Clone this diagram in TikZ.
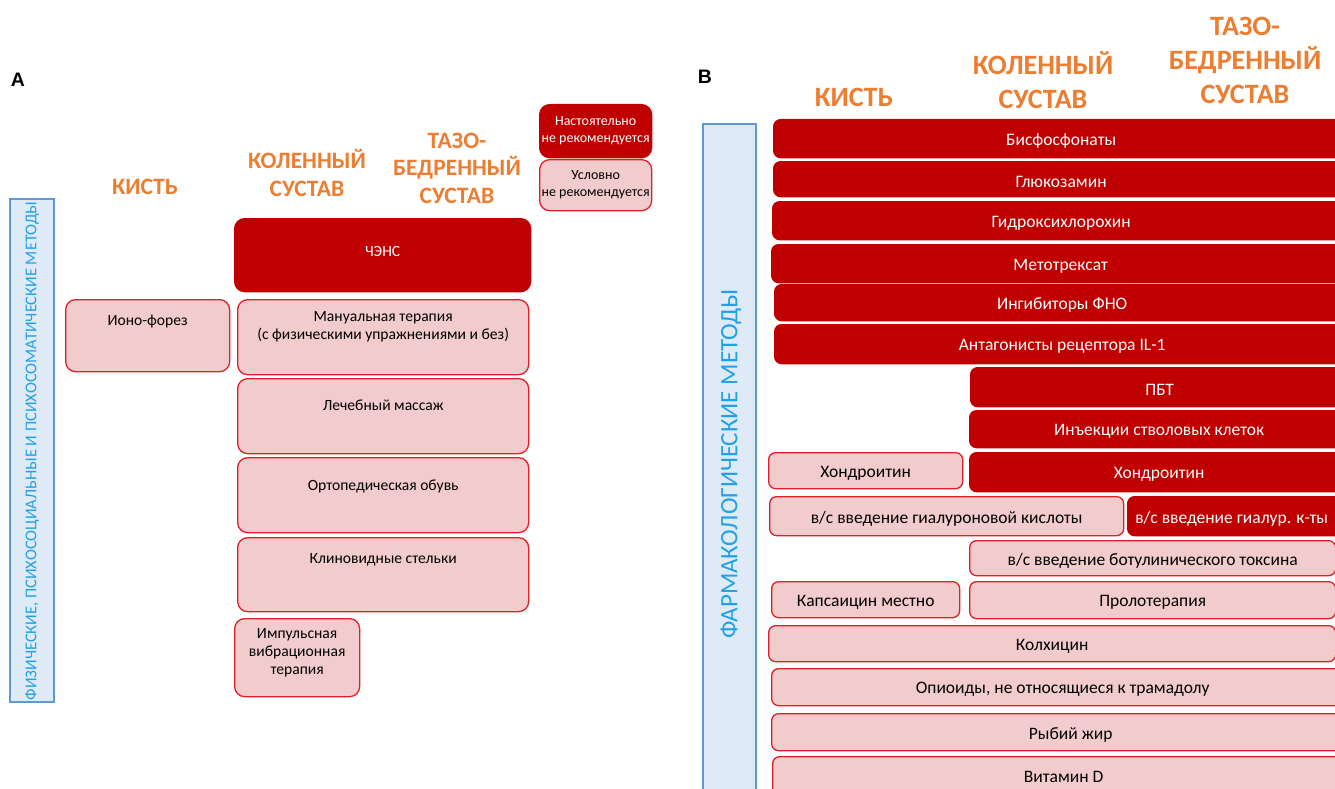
\documentclass[tikz,border=0pt]{standalone}
\usepackage{fontspec}
\setmainfont{Carlito}
\newfontfamily\labfont{Liberation Sans}
\definecolor{dred}{HTML}{C00000}
\definecolor{pfill}{HTML}{F2CCCC}
\definecolor{pdraw}{HTML}{DE1F28}
\definecolor{hor}{HTML}{ED7D31}
\definecolor{bfill}{HTML}{DEEBF7}
\definecolor{bdraw}{HTML}{5B9BD5}
\definecolor{btxt}{HTML}{22A0E6}
\begin{document}
\begin{tikzpicture}[x=1pt,y=-1pt,
  lbox/.style={rounded corners=10pt, anchor=north west, inner sep=0pt, line width=1.3pt},
  rbox/.style={rounded corners=7pt, anchor=north west, inner sep=0pt, line width=1.3pt},
  dark/.style={fill=dred, draw=dred},
  pink/.style={fill=pfill, draw=pdraw},
  ltxt/.style={font=\fontsize{15.6}{18}\selectfont, align=center, inner sep=0pt},
  rtxt/.style={font=\fontsize{17.5}{21}\selectfont, align=center, inner sep=0pt, yshift=-2.5pt},
  legtxt/.style={font=\fontsize{14}{17}\selectfont, align=center, inner sep=0pt},
  lhead/.style={font=\fontsize{23.5}{27.5}\selectfont\bfseries, text=hor, align=center, inner sep=0pt},
  rhead/.style={font=\fontsize{28}{34}\selectfont\bfseries, text=hor, align=center, inner sep=0pt},
  bluebox/.style={fill=bfill, draw=bdraw, line width=2.5pt},
  paneltag/.style={font=\labfont\fontsize{19.5}{22}\selectfont\bfseries, inner sep=0pt}
]
\clip (0,0) rectangle (1335,789);
\fill[white] (0,0) rectangle (1335,789);

% ---------------- Panel A ----------------
\node[paneltag] (tagA) at (18,80) {A};
\node[lhead] (hA1) at (145,187) {КИСТЬ};
\node[lhead] (hA2) at (307,173) {КОЛЕННЫЙ\\СУСТАВ};
\node[lhead] (hA3) at (457,168) {ТАЗО-\\БЕДРЕННЫЙ\\СУСТАВ};

\node[lbox, dark, minimum width=112pt, minimum height=53pt] (leg1) at (539,104) {};
\node[legtxt, text=white] at (leg1.center) {Настоятельно\\не рекомендуется};
\node[lbox, pink, minimum width=112pt, minimum height=51pt] (leg2) at (539,159) {};
\node[legtxt] at (leg2.center) {Условно\\не рекомендуется};

\draw[bluebox] (10,199) rectangle (54,702);
\node[rotate=90, text=btxt, font=\fontsize{16.5}{19}\selectfont, inner sep=0pt] (vA) at (32,451) {ФИЗИЧЕСКИЕ, ПСИХОСОЦИАЛЬНЫЕ И ПСИХОСОМАТИЧЕСКИЕ МЕТОДЫ};

\node[lbox, dark, minimum width=296pt, minimum height=73pt] (chens) at (234,218) {};
\node[ltxt, text=white] at ([yshift=4pt]chens.center) {ЧЭНС};
\node[lbox, pink, minimum width=164pt, minimum height=72pt] (iono) at (65,299) {};
\node[ltxt] at ([yshift=-23pt]iono.north) {Ионо-форез};
\node[lbox, pink, minimum width=291pt, minimum height=75pt] (manual) at (237,299) {};
\node[ltxt] at ([yshift=-28pt]manual.north) {Мануальная терапия\\(с физическими упражнениями и без)};
\node[lbox, pink, minimum width=291pt, minimum height=75pt] (massage) at (237,378) {};
\node[ltxt] at ([yshift=-27pt]massage.north) {Лечебный массаж};
\node[lbox, pink, minimum width=291pt, minimum height=75pt] (shoes) at (237,457) {};
\node[ltxt] at ([yshift=-29pt]shoes.north) {Ортопедическая обувь};
\node[lbox, pink, minimum width=291pt, minimum height=74pt] (insoles) at (237,537) {};
\node[ltxt] at ([yshift=-23pt]insoles.north) {Клиновидные стельки};
\node[lbox, pink, minimum width=125pt, minimum height=78pt] (vib) at (234,618) {};
\node[ltxt] at ([yshift=-35pt]vib.north) {Импульсная\\вибрационная\\терапия};

% ---------------- Panel B ----------------
\node[paneltag] (tagB) at (705,77) {B};
\node[rhead] (hB1) at (854,97) {КИСТЬ};
\node[rhead] (hB2) at (1043,80) {КОЛЕННЫЙ\\СУСТАВ};
\node[rhead] (hB3) at (1245,60) {ТАЗО-\\БЕДРЕННЫЙ\\СУСТАВ};

\draw[bluebox] (703,124) rectangle (756,800);
\node[rotate=90, text=btxt, font=\fontsize{25}{29}\selectfont, inner sep=0pt] (vB) at (731,464) {ФАРМАКОЛОГИЧЕСКИЕ МЕТОДЫ};

\node[rbox, dark, minimum width=575pt, minimum height=38pt] (r1) at (773,119) {};
\node[rtxt, text=white] at (r1.center) {Бисфосфонаты};
\node[rbox, dark, minimum width=575pt, minimum height=35pt] (r2) at (773,161) {};
\node[rtxt, text=white] at (r2.center) {Глюкозамин};
\node[rbox, dark, minimum width=577pt, minimum height=38pt] (r3) at (772,201) {};
\node[rtxt, text=white] at (r3.center) {Гидроксихлорохин};
\node[rbox, dark, minimum width=578pt, minimum height=38pt] (r4) at (771,244) {};
\node[rtxt, text=white] at (r4.center) {Метотрексат};
\node[rbox, dark, minimum width=575pt, minimum height=36pt] (r5) at (774,284) {};
\node[rtxt, text=white] at (r5.center) {Ингибиторы ФНО};
\node[rbox, dark, minimum width=575pt, minimum height=39pt] (r6) at (774,324) {};
\node[rtxt, text=white] at (r6.center) {Антагонисты рецептора IL-1};
\node[rbox, dark, minimum width=378pt, minimum height=39pt] (r7) at (970,367) {};
\node[rtxt, text=white] at (r7.center) {ПБТ};
\node[rbox, dark, minimum width=379pt, minimum height=37pt] (r8) at (969,410) {};
\node[rtxt, text=white] at (r8.center) {Инъекции стволовых клеток};
\node[rbox, pink, minimum width=194pt, minimum height=36pt] (r9a) at (768,452) {};
\node[rtxt] at (r9a.center) {Хондроитин};
\node[rbox, dark, minimum width=379pt, minimum height=39pt] (r9b) at (969,452) {};
\node[rtxt, text=white] at (r9b.center) {Хондроитин};
\node[rbox, pink, minimum width=354pt, minimum height=39pt] (r10a) at (769,496) {};
\node[rtxt] at (r10a.center) {в/с введение гиалуроновой кислоты};
\node[rbox, dark, minimum width=221pt, minimum height=39pt] (r10b) at (1127,496) {};
\node[rtxt, text=white] at ([xshift=-6.5pt]r10b.center) {в/с введение гиалур. к-ты};
\node[rbox, pink, minimum width=366pt, minimum height=35pt] (r11) at (969,540) {};
\node[rtxt] at (r11.center) {в/с введение ботулинического токсина};
\node[rbox, pink, minimum width=188pt, minimum height=36pt] (r12a) at (771,581) {};
\node[rtxt] at (r12a.center) {Капсаицин местно};
\node[rbox, pink, minimum width=366pt, minimum height=37pt] (r12b) at (969,581) {};
\node[rtxt] at (r12b.center) {Пролотерапия};
\node[rbox, pink, minimum width=567pt, minimum height=36pt] (r13) at (768,625) {};
\node[rtxt] at (r13.center) {Колхицин};
\node[rbox, pink, minimum width=577pt, minimum height=37pt] (r14) at (771,668) {};
\node[rtxt] at ([xshift=2.5pt]r14.center) {Опиоиды, не относящиеся к трамадолу};
\node[rbox, pink, minimum width=577pt, minimum height=37pt] (r15) at (771,713) {};
\node[rtxt] at ([xshift=10.5pt]r15.center) {Рыбий жир};
\node[rbox, pink, minimum width=576pt, minimum height=45pt] (r16) at (772,756) {};
\node[rtxt] at ([xshift=3pt,yshift=5pt]r16.center) {Витамин D};
\end{tikzpicture}
\end{document}
